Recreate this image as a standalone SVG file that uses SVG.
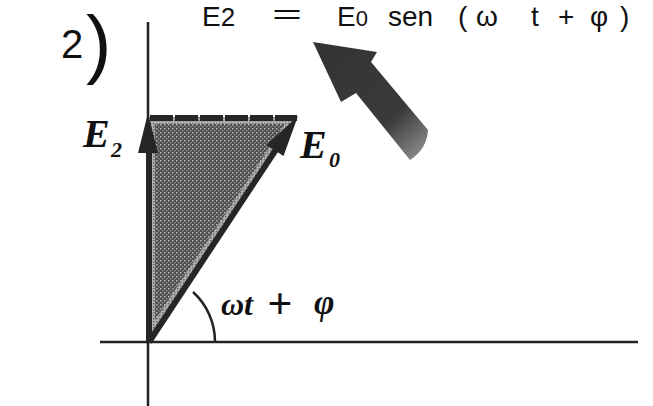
<svg xmlns="http://www.w3.org/2000/svg" width="653" height="406" viewBox="0 0 653 406">
<style>
.hand{font-family:"Liberation Sans","DejaVu Sans",sans-serif;fill:#111;}
.lbl{font-family:"Liberation Serif","DejaVu Serif",serif;font-weight:bold;font-style:italic;fill:#111;}
.ax{stroke:#222;stroke-width:2.5;fill:none;}
.vec{stroke:#262626;stroke-width:6;fill:none;}
.head{fill:#262626;}
</style>
<defs>
<pattern id="light" width="3" height="3" patternUnits="userSpaceOnUse">
<rect width="3" height="3" fill="#b0b0b0"/>
<rect width="1.5" height="1.5" fill="#6a6a6a"/>
</pattern>
<pattern id="dark" width="4" height="4" patternUnits="userSpaceOnUse">
<rect width="4" height="4" fill="#505050"/>
<rect x="0" y="0" width="1.5" height="1.5" fill="#b8b8b8"/>
<rect x="2" y="2" width="1.5" height="1.5" fill="#8c8c8c"/>
</pattern>
<linearGradient id="fade" x1="313" y1="42" x2="418" y2="158" gradientUnits="userSpaceOnUse">
<stop offset="0" stop-color="#333"/>
<stop offset="0.7" stop-color="#3a3a3a"/>
<stop offset="1" stop-color="#8a8a8a"/>
</linearGradient>
</defs>

<g id="title">
<text class="hand" x="202" y="26" font-size="28">E<tspan font-size="26">2</tspan></text>
<text class="hand" x="272" y="24" font-size="28" textLength="30" lengthAdjust="spacingAndGlyphs">=</text>
<text class="hand" x="337" y="26" font-size="28">E<tspan font-size="22">0</tspan></text>
<text class="hand" x="388" y="26" font-size="28">sen</text>
<text class="hand" x="458" y="26" font-size="28">(</text>
<text class="hand" x="476" y="26" font-size="28">ω</text>
<text class="hand" x="531" y="26" font-size="28">t</text>
<text class="hand" x="558" y="26" font-size="28">+</text>
<text class="hand" x="590" y="26" font-size="28">φ</text>
<text class="hand" x="620" y="26" font-size="28">)</text>
</g>

<g id="label-2">
<text class="hand" x="61" y="58" font-size="40">2</text>
<text class="hand" x="86" y="69" font-size="76">)</text>
</g>

<g id="big-arrow">
<path d="M313,42 L377,52 L371,62 L428,130 Q427,149 410,160 L356,93 L341,102 Z" fill="url(#fade)"/>
</g>

<g id="triangle">
<polygon points="148,342 148,117 297,117" fill="url(#light)"/>
<polygon points="155,124 285,124 155,320" fill="url(#dark)"/>
</g>

<g id="connectors">
<line class="ax" x1="148" y1="22" x2="148" y2="406"/>
<line class="ax" x1="100" y1="342" x2="638" y2="342" stroke-width="3"/>
<line class="vec" x1="150" y1="118" x2="297" y2="118" stroke-dasharray="23 2"/>
<line class="vec" x1="149" y1="342" x2="149" y2="145"/>
<polygon class="head" points="148,113 158,153 138,153"/>
<line class="vec" x1="149" y1="342" x2="277" y2="148"/>
<polygon class="head" points="298,116 283.5,156 266.5,145"/>
<path class="ax" d="M215,342 A67,67 0 0 0 193,292" stroke-width="3"/>
</g>

<g id="label-E2">
<text class="lbl" x="83" y="147" font-size="40">E<tspan x="111" y="157" font-size="22">2</tspan></text>
</g>
<g id="label-E0">
<text class="lbl" x="300" y="158" font-size="40">E<tspan x="329" y="167" font-size="22">0</tspan></text>
</g>
<g id="label-angle">
<text class="lbl" x="221" y="315" font-size="32">ω</text>
<text class="lbl" x="244" y="315" font-size="32">t</text>
<text class="lbl" x="267" y="318" font-size="44">+</text>
<text class="lbl" x="314" y="314" font-size="35">φ</text>
</g>
</svg>
